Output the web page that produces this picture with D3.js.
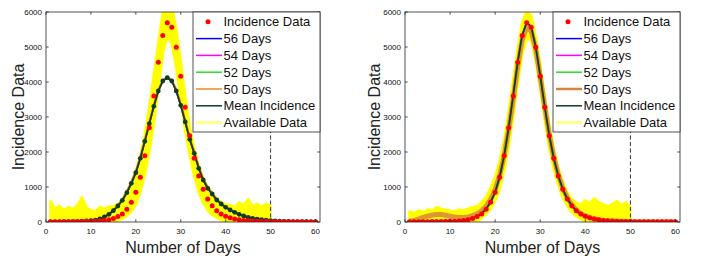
<!DOCTYPE html>
<html>
<head>
<meta charset="utf-8">
<script src="https://cdn.jsdelivr.net/npm/d3@7"></script>
<style>
  body { margin: 0; background: #fff; }
  svg text { font-family: "Liberation Sans", Arial, sans-serif; }
</style>
</head>
<body>
<svg id="chart" width="709" height="265"></svg>
<script>
var W = 709, H = 265;

// days 1..60
var days = d3.range(1, 61);
var xTicks = [0, 10, 20, 30, 40, 50, 60];
var yTicks = [0, 1000, 2000, 3000, 4000, 5000, 6000];
var legendNames = ["Incidence Data", "56 Days", "54 Days", "52 Days", "50 Days", "Mean Incidence", "Available Data"];

// red dots (same in both panels)
var incidence = [5, 6, 7, 8, 10, 11, 13, 15, 18, 21, 25, 30, 40, 65, 100, 155, 230, 363, 563, 849,
  1280, 1890, 2690, 3600, 4565, 5330, 5695, 5565, 4990, 4165, 3280, 2466, 1820, 1314, 934, 657, 466, 323, 229, 163,
  118, 85, 62, 46, 35, 27, 21, 17, 14, 12, 10, 9, 8, 7, 6, 6, 5, 5, 4, 4];

// left panel
var meanL = [3, 4, 6, 8, 10, 13, 17, 22, 28, 38, 56, 86, 143, 220, 323, 457, 620, 837, 1106, 1409,
  1820, 2306, 2810, 3306, 3743, 4029, 4123, 4029, 3743, 3334, 2860, 2363, 1963, 1534, 1200, 963, 800, 629, 514, 419,
  343, 277, 220, 171, 134, 104, 82, 64, 50, 40, 32, 25, 20, 16, 13, 10, 8, 7, 6, 5];
var days50L = [3, 4, 6, 8, 11, 14, 18, 23, 30, 40, 58, 90, 150, 228, 335, 470, 640, 860, 1130, 1440,
  1850, 2330, 2830, 3320, 3750, 4040, 4140, 4050, 3770, 3360, 2890, 2390, 1990, 1560, 1220, 980, 815, 642, 525, 428,
  350, 283, 225, 175, 137, 107, 84, 66, 52, 41, 33, 26, 21, 17, 13, 10, 8, 7, 6, 5];
var availHiL = [600, 380, 460, 330, 430, 360, 480, 700, 420, 340, 300, 430, 380, 440, 450, 500, 640, 860, 1130, 1440,
  1900, 2500, 3300, 4200, 5100, 6000, 6400, 6200, 5500, 4600, 3600, 2700, 2100, 1600, 1250, 1000, 820, 660, 570, 500,
  480, 420, 560, 480, 650, 450, 520, 430, 520, 450];
var availLoL = [0, 0, 0, 0, 0, 0, 0, 0, 0, 0, 0, 0, 0, 0, 0, 50, 100, 180, 300, 500,
  850, 1350, 2000, 2800, 3800, 4800, 5300, 5100, 4400, 3500, 2600, 1900, 1300, 850, 550, 330, 200, 120, 60, 0,
  0, 0, 0, 0, 0, 0, 0, 0, 0, 0];

// right panel
var meanR = [4, 5, 7, 9, 12, 15, 18, 22, 26, 30, 35, 42, 52, 72, 108, 162, 240, 370, 570, 855,
  1285, 1895, 2700, 3610, 4570, 5340, 5705, 5575, 5000, 4175, 3290, 2475, 1828, 1320, 940, 662, 470, 327, 232, 166,
  120, 87, 63, 47, 36, 28, 22, 17, 14, 12, 10, 9, 8, 7, 6, 6, 5, 5, 4, 4];
var days50R = [20, 45, 85, 130, 170, 200, 215, 212, 195, 165, 140, 128, 128, 145, 180, 230, 320, 450, 650, 930,
  1330, 1900, 2650, 3500, 4450, 5200, 5560, 5450, 4950, 4150, 3300, 2500, 1850, 1350, 970, 690, 490, 345, 245, 175,
  127, 92, 68, 50, 38, 30, 24, 19, 15, 12, 10, 9, 8, 7, 6, 6, 5, 5, 4, 4];
var availHiR = [300, 250, 330, 280, 360, 320, 420, 380, 350, 330, 300, 350, 330, 380, 420, 450, 560, 720, 980, 1300,
  1750, 2350, 3150, 4050, 4950, 5700, 6050, 5900, 5300, 4500, 3600, 2800, 2100, 1550, 1150, 850, 650, 560, 500, 620,
  520, 680, 560, 500, 450, 520, 600, 480, 560, 420];
var availLoR = [0, 0, 0, 0, 0, 0, 0, 0, 0, 0, 0, 0, 0, 0, 0, 0, 120, 220, 380, 600,
  950, 1450, 2150, 3000, 3950, 4800, 5250, 5200, 4600, 3800, 2900, 2100, 1500, 1050, 700, 450, 280, 160, 90, 0,
  0, 0, 0, 0, 0, 0, 0, 0, 0, 0];

var colors = {
  red: "#ff0000", c56: "#0000ff", c54: "#ff00ff", c52: "#22e022", c50: "#f08a24",
  mean: "#123d24", avail: "#ffff00", availLeg: "#ffff8c"
};

var svg = d3.select("#chart");

var panels = [
  {id: "L", x0: 46, x1: 320, mean: meanL, d50: days50L, hi: availHiL, lo: availLoL, markers: true, lblX: 23.5, w50: 2.5},
  {id: "R", x0: 405, x1: 680, mean: meanR, d50: days50R, hi: availHiR, lo: availLoR, markers: false, lblX: 380, w50: 5}
];
var plotTop = 12, plotBottom = 222;

panels.forEach(function(p) {
  var x = d3.scaleLinear().domain([0, 61]).range([p.x0, p.x1]);
  var y = d3.scaleLinear().domain([0, 6000]).range([plotBottom, plotTop]);

  svg.append("clipPath").attr("id", "clip" + p.id)
    .append("rect").attr("x", p.x0).attr("y", plotTop).attr("width", p.x1 - p.x0).attr("height", plotBottom - plotTop);

  var g = svg.append("g").attr("clip-path", "url(#clip" + p.id + ")");

  // available data band
  var availDays = days.slice(0, 50);
  var area = d3.area()
    .x(function(d, i) { return x(availDays[i]); })
    .y0(function(d, i) { return y(p.lo[i]); })
    .y1(function(d) { return y(d); });
  g.append("path").attr("d", area(p.hi)).attr("fill", colors.avail).attr("stroke", colors.avail)
    .attr("stroke-width", 2.5).attr("stroke-linejoin", "round");

  var line = d3.line().x(function(d, i) { return x(days[i]); }).y(function(d) { return y(d); });

  // model lines (56/54/52 days sit on the mean)
  [[colors.c56, p.mean], [colors.c54, p.mean], [colors.c52, p.mean]].forEach(function(s) {
    g.append("path").attr("d", line(s[1])).attr("fill", "none").attr("stroke", s[0]).attr("stroke-width", 1.5);
  });
  g.append("path").attr("d", line(p.d50)).attr("fill", "none")
    .attr("stroke", p.id == "R" ? "#d8853a" : colors.c50).attr("stroke-width", p.w50)
    .attr("stroke-opacity", p.id == "R" ? 0.85 : 1);

  g.append("path").attr("d", line(p.mean)).attr("fill", "none").attr("stroke", colors.mean).attr("stroke-width", 1.8);
  if (p.markers) {
    g.selectAll(".mm").data(p.mean).enter().append("circle")
      .attr("cx", function(d, i) { return x(days[i]); })
      .attr("cy", function(d) { return y(d); })
      .attr("r", 2.4).attr("fill", colors.mean);
  }

  g.selectAll(".inc").data(incidence).enter().append("circle")
    .attr("cx", function(d, i) { return x(days[i]); })
    .attr("cy", function(d) { return y(d); })
    .attr("r", 2.5).attr("fill", colors.red);

  // dashed line at day 50
  svg.append("line").attr("x1", x(50)).attr("x2", x(50)).attr("y1", plotTop).attr("y2", plotBottom)
    .attr("stroke", "#333").attr("stroke-width", 1).attr("stroke-dasharray", "4,2.5");

  // box + ticks
  svg.append("rect").attr("x", p.x0).attr("y", plotTop).attr("width", p.x1 - p.x0).attr("height", plotBottom - plotTop)
    .attr("fill", "none").attr("stroke", "#262626").attr("stroke-width", 0.8);
  var tl = 2.7;
  xTicks.forEach(function(t) {
    svg.append("line").attr("x1", x(t)).attr("x2", x(t)).attr("y1", plotBottom).attr("y2", plotBottom - tl).attr("stroke", "#262626").attr("stroke-width", 0.8);
    svg.append("line").attr("x1", x(t)).attr("x2", x(t)).attr("y1", plotTop).attr("y2", plotTop + tl).attr("stroke", "#262626").attr("stroke-width", 0.8);
    svg.append("text").attr("x", x(t)).attr("y", plotBottom + 11.5).attr("text-anchor", "middle")
      .attr("font-size", 8).attr("fill", "#111").text(t);
  });
  yTicks.forEach(function(t) {
    svg.append("line").attr("x1", p.x0).attr("x2", p.x0 + tl).attr("y1", y(t)).attr("y2", y(t)).attr("stroke", "#262626").attr("stroke-width", 0.8);
    svg.append("line").attr("x1", p.x1).attr("x2", p.x1 - tl).attr("y1", y(t)).attr("y2", y(t)).attr("stroke", "#262626").attr("stroke-width", 0.8);
    svg.append("text").attr("x", p.x0 - 4).attr("y", y(t) + 3).attr("text-anchor", "end")
      .attr("font-size", 8).attr("fill", "#111").text(t);
  });

  // axis titles
  svg.append("text").attr("x", (p.x0 + p.x1) / 2).attr("y", 253).attr("text-anchor", "middle")
    .attr("font-size", 16).attr("fill", "#222").text("Number of Days");
  svg.append("text").attr("transform", "translate(" + p.lblX + "," + ((plotTop + plotBottom) / 2) + ") rotate(-90)")
    .attr("text-anchor", "middle").attr("font-size", 16).attr("fill", "#222").text("Incidence Data");

  // legend
  var lx = p.x1 - 127, ly = plotTop;
  var lg = svg.append("g");
  lg.append("rect").attr("x", lx).attr("y", ly).attr("width", 127).attr("height", 120)
    .attr("fill", "#fff").attr("stroke", "#262626").attr("stroke-width", 0.8);
  var legColors = [colors.red, colors.c56, colors.c54, colors.c52, p.id == "R" ? "#d8853a" : colors.c50, colors.mean, colors.availLeg];
  legendNames.forEach(function(name, i) {
    var cy = ly + 9.8 + i * 16.8;
    if (i == 0) {
      lg.append("circle").attr("cx", lx + 15).attr("cy", cy).attr("r", 2.5).attr("fill", colors.red);
    } else {
      lg.append("line").attr("x1", lx + 3).attr("x2", lx + 29).attr("y1", cy).attr("y2", cy)
        .attr("stroke", legColors[i]).attr("stroke-width", i == 6 ? 3 : (i == 4 && p.id == "R" ? 2.5 : 1.5));
    }
    lg.append("text").attr("x", lx + 30.5).attr("y", cy + 4.6).attr("font-size", 13).attr("fill", "#111").text(name);
  });
});
</script>
</body>
</html>
